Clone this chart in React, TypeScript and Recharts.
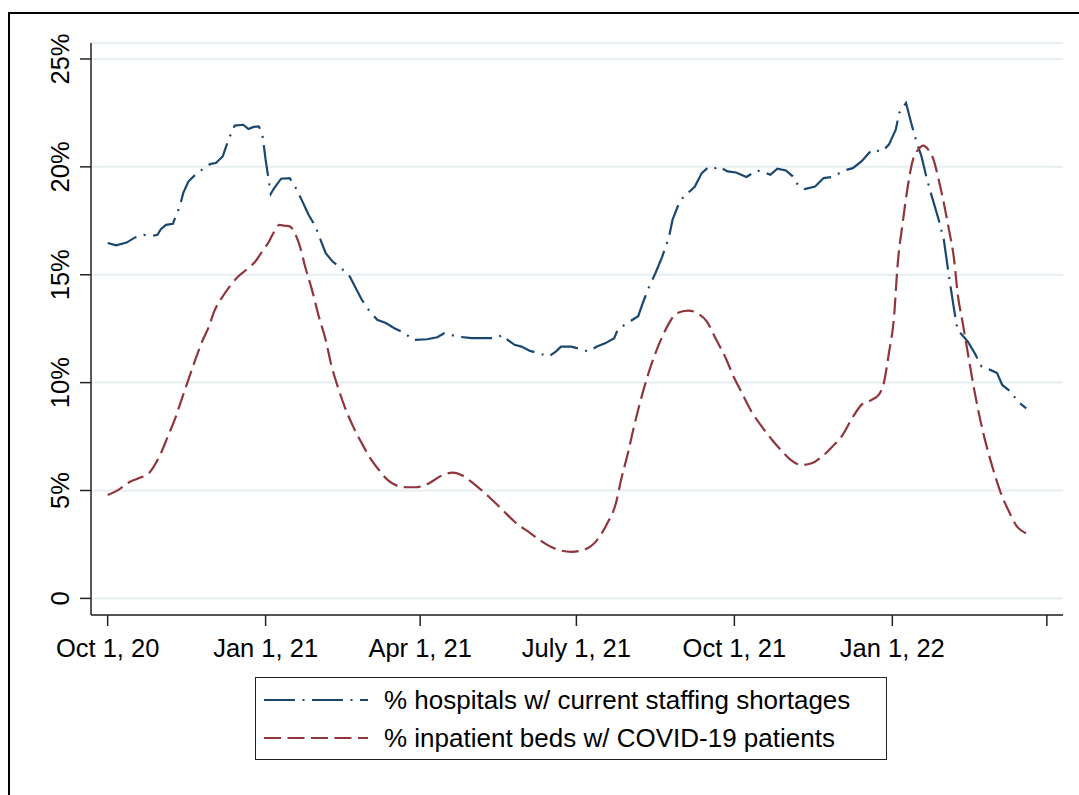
import React from 'react';
import { LineChart, Line, XAxis, YAxis, CartesianGrid } from 'recharts';

// x values are days since Oct 1, 2020
const tickDays = [0, 92, 182, 273, 365, 457, 547];
const tickLabels = ['Oct 1, 20', 'Jan 1, 21', 'Apr 1, 21', 'July 1, 21', 'Oct 1, 21', 'Jan 1, 22', ''];
const yTicks = [0, 5, 10, 15, 20, 25];
const yTickLabels = ['0', '5%', '10%', '15%', '20%', '25%'];

const staffDays = [
  0, 5, 11, 16, 21, 26, 29, 31, 34, 38, 40, 42, 44, 47, 51, 55, 60, 63, 67, 69, 72, 74, 79, 82, 85, 88, 90, 92, 95, 97,
  101, 106, 109, 113, 117, 121, 124, 127, 131, 136, 141, 145, 148, 152, 157, 162, 167, 173, 178, 186, 192, 196, 204,
  212, 218, 226, 230, 233, 237, 241, 246, 251, 257, 261, 264, 270, 275, 280, 285, 290, 295, 297, 301, 305, 309, 312,
  315, 319, 323, 327, 329, 332, 336, 339, 342, 346, 350, 354, 356, 361, 366, 372, 378, 381, 386, 390, 395, 399, 402,
  406, 412, 417, 422, 429, 434, 439, 445, 451, 455, 459, 461, 465, 468, 471, 474, 477, 480, 482, 484, 487, 490, 493,
  495, 501, 505, 509, 514, 518, 521, 526, 530, 535,
];
const staffPct = [
  16.47, 16.36, 16.49, 16.73, 16.85, 16.8, 16.85, 17.11, 17.31, 17.36, 17.78, 18.16, 18.78, 19.32, 19.63, 19.87, 20.14,
  20.18, 20.48, 20.95, 21.57, 21.91, 21.95, 21.75, 21.85, 21.87, 21.57, 20.33, 18.75, 19.02, 19.45, 19.48, 19.12, 18.47,
  17.78, 17.24, 16.62, 16.0, 15.61, 15.31, 14.92, 14.3, 13.84, 13.37, 12.91, 12.76, 12.52, 12.29, 11.98, 12.01, 12.1,
  12.29, 12.13, 12.06, 12.06, 12.06, 12.21, 11.98, 11.75, 11.67, 11.47, 11.36, 11.21, 11.44, 11.67, 11.67, 11.56, 11.44,
  11.67, 11.83, 12.06, 12.44, 12.68, 12.88, 13.08, 13.76, 14.38, 15.07, 15.84, 16.77, 17.55, 18.16, 18.71, 18.86, 19.09,
  19.71, 19.99, 19.94, 20.02, 19.79, 19.74, 19.53, 19.83, 19.79, 19.63, 19.91, 19.83, 19.56, 19.17, 18.97, 19.09, 19.48,
  19.53, 19.83, 19.94, 20.25, 20.79, 20.71, 21.03, 21.72, 22.5, 22.96, 22.03, 21.18, 20.48, 19.48, 18.63, 18.09, 17.55,
  16.62, 14.92, 13.37, 12.44, 11.9, 11.36, 10.74, 10.59, 10.44, 9.89, 9.58, 9.12, 8.81,
];

const bedsDays = [
  0, 6, 12, 18, 24, 28, 31, 35, 39, 43, 47, 51, 55, 59, 62, 67, 71, 76, 82, 86, 90, 94, 97, 100, 103, 106, 109, 112, 115,
  119, 123, 127, 130, 134, 138, 143, 148, 153, 158, 163, 169, 174, 179, 187, 194, 201, 206, 214, 222, 230, 237, 245, 253,
  260, 270, 278, 285, 291, 296, 299, 303, 307, 311, 315, 319, 323, 327, 331, 338, 344, 349, 354, 360, 365, 369, 375, 381,
  387, 393, 398, 404, 410, 416, 422, 428, 433, 439, 445, 449, 452, 455, 458, 460, 463, 466, 469, 472, 475, 478, 481, 484,
  487, 490, 493, 495, 498, 501, 504, 507, 510, 513, 517, 521, 525, 529, 535,
];
const bedsPct = [
  4.79, 5.02, 5.36, 5.57, 5.8, 6.26, 6.73, 7.5, 8.27, 9.2, 10.13, 11.05, 11.9, 12.6, 13.29, 13.99, 14.45, 14.92, 15.31,
  15.61, 16.08, 16.54, 17.0, 17.31, 17.27, 17.24, 16.93, 16.31, 15.38, 14.3, 13.06, 11.98, 10.9, 9.81, 8.89, 7.96, 7.19,
  6.49, 5.95, 5.49, 5.21, 5.15, 5.15, 5.33, 5.67, 5.83, 5.72, 5.26, 4.71, 4.1, 3.55, 3.09, 2.63, 2.32, 2.16, 2.27, 2.7,
  3.48, 4.41, 5.49, 6.73, 8.12, 9.35, 10.44, 11.36, 12.13, 12.76, 13.19, 13.34, 13.19, 12.83, 12.06, 11.13, 10.2, 9.58,
  8.65, 7.96, 7.34, 6.8, 6.41, 6.18, 6.26, 6.57, 7.03, 7.57, 8.27, 8.97, 9.2, 9.43, 9.97, 11.36, 13.06, 15.38, 17.39,
  19.09, 20.33, 20.79, 20.98, 20.79, 20.33, 19.4, 18.32, 17.08, 15.69, 14.15, 12.76, 11.36, 9.97, 8.73, 7.65, 6.73, 5.64,
  4.71, 4.02, 3.4, 3.01,
];

const staffData = staffDays.map((d, i) => ({ day: d, v: staffPct[i] }));
const bedsData = bedsDays.map((d, i) => ({ day: d, v: bedsPct[i] }));

const NAVY = '#1a476f';
const MAROON = '#90353b';
const FONT = '"Liberation Sans", Arial, sans-serif';
const STAFF_DASH = '31 7.5 2 7.5';
const BEDS_DASH = '17 6.5';

const XTick = ({ x, payload }: any) => {
  const i = tickDays.indexOf(payload.value);
  return (
    <text x={x} y={657} textAnchor="middle" fontSize={25.5} fontFamily={FONT} fill="#000">
      {tickLabels[i]}
    </text>
  );
};

const YTick = ({ y, payload }: any) => {
  const i = yTicks.indexOf(payload.value);
  return (
    <text
      x={69}
      y={y}
      transform={`rotate(-90 69 ${y})`}
      textAnchor="middle"
      fontSize={25.5}
      fontFamily={FONT}
      fill="#000"
    >
      {yTickLabels[i]}
    </text>
  );
};

const LegendBox = () => (
  <div
    style={{
      position: 'absolute',
      left: 255,
      top: 677,
      width: 630,
      height: 81,
      border: '1.5px solid #222',
      background: '#fff',
      fontFamily: FONT,
      fontSize: 26,
      color: '#000',
    }}
  >
    {[
      { label: '% hospitals w/ current staffing shortages', color: NAVY, dash: STAFF_DASH, y: 22 },
      { label: '% inpatient beds w/ COVID-19 patients', color: MAROON, dash: BEDS_DASH, y: 60 },
    ].map((row) => (
      <div key={row.label} style={{ position: 'absolute', left: 8, top: row.y - 16, height: 32, display: 'flex', alignItems: 'center' }}>
        <svg width={104} height={6} style={{ display: 'block' }}>
          <line x1={0} y1={3} x2={104} y2={3} stroke={row.color} strokeWidth={2} strokeDasharray={row.dash} />
        </svg>
        <span style={{ marginLeft: 16, whiteSpace: 'nowrap', lineHeight: '32px' }}>{row.label}</span>
      </div>
    ))}
  </div>
);

export default function App() {
  return (
    <div style={{ position: 'fixed', left: 0, top: 0, width: 1079, height: 795, overflow: 'hidden', background: '#fff' }}>
      <div
        style={{
          position: 'absolute',
          left: 8,
          top: 12,
          width: 1100,
          height: 820,
          border: '2px solid #000',
          boxSizing: 'border-box',
        }}
      />
      <div style={{ position: 'absolute', left: 0, top: 0 }}>
        <LineChart width={1079} height={795} margin={{ top: 43, right: 16, bottom: 0, left: 0 }}>
          <CartesianGrid vertical={false} stroke="#e6eef1" strokeWidth={2} />
          <XAxis
            dataKey="day"
            type="number"
            domain={[-9.7, 556.4]}
            ticks={tickDays}
            allowDataOverflow
            height={180}
            tickSize={11}
            tick={<XTick />}
            stroke="#222"
            strokeWidth={1.5}
          />
          <YAxis
            type="number"
            domain={[-0.77, 25.74]}
            ticks={yTicks}
            allowDataOverflow
            width={91}
            tickSize={11}
            tick={<YTick />}
            stroke="#222"
            strokeWidth={1.5}
          />
          <Line
            data={staffData}
            dataKey="v"
            type="linear"
            stroke={NAVY}
            strokeWidth={2.2}
            strokeDasharray={STAFF_DASH}
            dot={false}
            activeDot={false}
            isAnimationActive={false}
          />
          <Line
            data={bedsData}
            dataKey="v"
            type="monotone"
            stroke={MAROON}
            strokeWidth={2.2}
            strokeDasharray={BEDS_DASH}
            dot={false}
            activeDot={false}
            isAnimationActive={false}
          />
        </LineChart>
      </div>
      <LegendBox />
    </div>
  );
}
